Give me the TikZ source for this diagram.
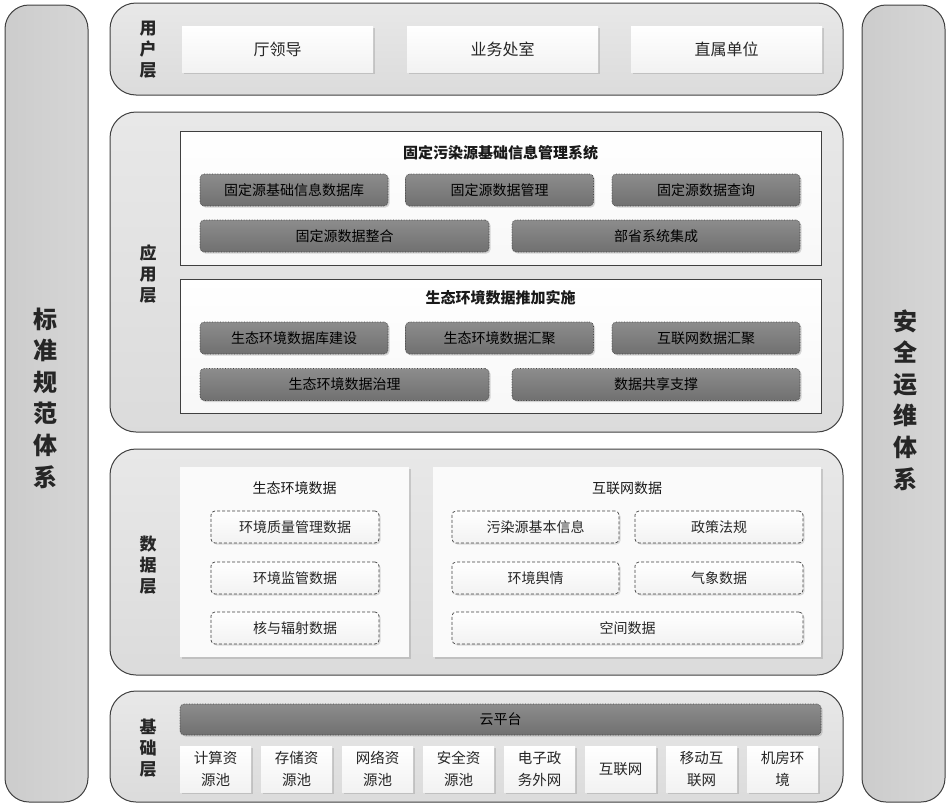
\documentclass[tikz,border=0pt]{standalone}
\usepackage{fontspec}
\setmainfont{Noto Sans CJK SC}
\usetikzlibrary{positioning,shadows}

\tikzset{
  pillar/.style={draw=black!75, line width=1pt, rounded corners=24pt, left color=black!20, right color=black!16},
  layer/.style={draw=black!75, line width=1pt, rounded corners=26pt, top color=black!9, bottom color=black!14},
  tagtext/.style={align=center, font=\fontsize{17}{21}\selectfont\bfseries, text=black!85},
  bigtext/.style={align=center, font=\fontsize{24}{31.6}\selectfont\bfseries, text=black!85},
  userbox/.style={minimum width=191pt, minimum height=46pt, top color=white, bottom color=black!5,
    drop shadow={opacity=0.3, shadow xshift=1.5pt, shadow yshift=-1.5pt},
    font=\fontsize{16}{18}\selectfont, text=black!85},
  sysbox/.style={draw=black!75, line width=0.9pt, top color=white, bottom color=black!3},
  darkbox/.style={minimum height=32pt, rounded corners=4pt, top color=black!45, bottom color=black!56,
    draw=black!75, densely dotted, line width=0.6pt,
    drop shadow={opacity=0.3, shadow xshift=1.5pt, shadow yshift=-1.5pt},
    font=\fontsize{14}{16}\selectfont, text=black},
  title/.style={font=\fontsize{15}{18}\selectfont\bfseries, text=black!90},
  panel/.style={fill=black!2, drop shadow={opacity=0.3, shadow xshift=1.5pt, shadow yshift=-1.5pt}},
  databox/.style={minimum height=32pt, rounded corners=4pt, top color=white, bottom color=black!5,
    draw=black!75, densely dashed, line width=0.7pt,
    drop shadow={opacity=0.25, shadow xshift=1.5pt, shadow yshift=-1.5pt},
    font=\fontsize{14}{16}\selectfont, text=black!85},
  resbox/.style={minimum width=71pt, minimum height=46pt, align=center, top color=white, bottom color=black!5,
    drop shadow={opacity=0.3, shadow xshift=1.5pt, shadow yshift=-1.5pt},
    font=\fontsize{14.5}{21.5}\selectfont, text=black!85}
}

\begin{document}
\begin{tikzpicture}[x=1pt,y=-1pt]
  \useasboundingbox (0,0) rectangle (951,806);

  % side pillars
  \draw[pillar] (5,5) rectangle (88,802);
  \draw[pillar] (862,5) rectangle (945,802);
  \node[bigtext] (std) at (46,398) {标\\准\\规\\范\\体\\系};
  \node[bigtext] (sec) at (905,400) {安\\全\\运\\维\\体\\系};

  % layers
  \draw[layer] (110,3) rectangle (843,95);
  \draw[layer] (110,112) rectangle (843,432);
  \draw[layer] (110,449) rectangle (843,675);
  \draw[layer] (110,691) rectangle (843,802);
  \node[tagtext] (userl) at (148,50) {用\\户\\层};
  \node[tagtext] (appl) at (148,274) {应\\用\\层};
  \node[tagtext] (datal) at (148,565) {数\\据\\层};
  \node[tagtext] (basel) at (148,748) {基\\础\\层};

  % user layer
  \node[userbox] (lead) at (277.5,49) {厅领导};
  \node[userbox] (office) at (502.5,49) {业务处室};
  \node[userbox] (unit) at (726.5,49) {直属单位};

  % application layer
  \draw[sysbox] (180,131) rectangle (821,265);
  \draw[sysbox] (180,279) rectangle (821,413);
  \node[title] (fsys) at (500.5,153) {固定污染源基础信息管理系统};
  \node[darkbox, minimum width=188pt] (fs1) at (294,190) {固定源基础信息数据库};
  \node[darkbox, minimum width=188pt] (fs2) at (499.5,190) {固定源数据管理};
  \node[darkbox, minimum width=188pt] (fs3) at (706,190) {固定源数据查询};
  \node[darkbox, minimum width=289pt] (fs4) at (344.5,236) {固定源数据整合};
  \node[darkbox, minimum width=288pt] (fs5) at (656,236) {部省系统集成};
  \node[title] (esys) at (500.5,298) {生态环境数据推加实施};
  \node[darkbox, minimum width=188pt] (eco1) at (294,338) {生态环境数据库建设};
  \node[darkbox, minimum width=188pt] (eco2) at (499.5,338) {生态环境数据汇聚};
  \node[darkbox, minimum width=188pt] (eco3) at (706,338) {互联网数据汇聚};
  \node[darkbox, minimum width=289pt] (eco4) at (344.5,384.5) {生态环境数据治理};
  \node[darkbox, minimum width=288pt] (eco5) at (656,384.5) {数据共享支撑};

  % data layer
  \path[panel] (180,467) rectangle (409,657);
  \path[panel] (433,467) rectangle (821,657);
  \node[title, font=\fontsize{14}{16}\selectfont] (envt) at (294.5,488) {生态环境数据};
  \node[title, font=\fontsize{14}{16}\selectfont] (nett) at (627,488) {互联网数据};
  \node[databox, minimum width=168pt] (env1) at (295,527) {环境质量管理数据};
  \node[databox, minimum width=168pt] (env2) at (295,578) {环境监管数据};
  \node[databox, minimum width=168pt] (env3) at (295,628) {核与辐射数据};
  \node[databox, minimum width=167pt] (net1) at (535.5,527) {污染源基本信息};
  \node[databox, minimum width=168pt] (net2) at (719,527) {政策法规};
  \node[databox, minimum width=167pt] (net3) at (535.5,578) {环境舆情};
  \node[databox, minimum width=168pt] (net4) at (719,578) {气象数据};
  \node[databox, minimum width=351pt] (net5) at (627.5,628) {空间数据};

  % base layer
  \node[darkbox, minimum width=641pt, minimum height=31pt] (cloud) at (500.5,719.5) {云平台};
  \foreach \t [count=\i from 0] in {计算资\\源池, 存储资\\源池, 网络资\\源池, 安全资\\源池,
      电子政\\务外网, 互联网, 移动互\\联网, 机房环\\境}
    \node[resbox] (res\i) at (215.5+81*\i,769) {\t};
\end{tikzpicture}
\end{document}
